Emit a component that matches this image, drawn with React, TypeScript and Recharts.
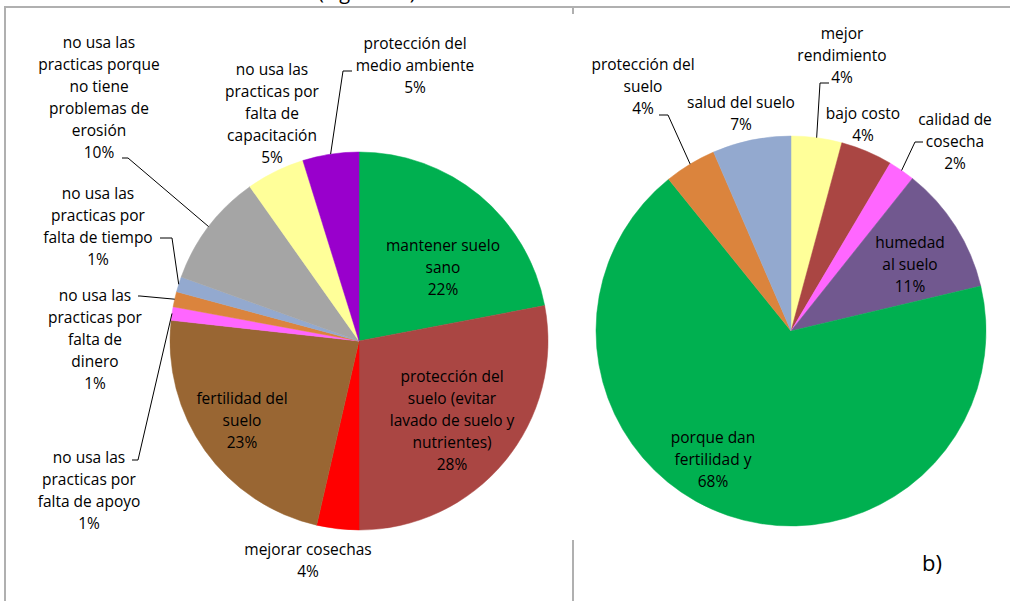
import React from 'react';
import { PieChart, Pie, Cell } from 'recharts';

// ---- Left pie (a) ----
const leftNames = [
  'mantener suelo\nsano',
  'protección del\nsuelo (evitar\nlavado de suelo y\nnutrientes)',
  'mejorar cosechas',
  'fertilidad del\nsuelo',
  'no usa las\npracticas por\nfalta de apoyo',
  'no usa las\npracticas por\nfalta de\ndinero',
  'no usa las\npracticas por\nfalta de tiempo',
  'no usa las\npracticas porque\nno tiene\nproblemas de\nerosión',
  'no usa las\npracticas por\nfalta de\ncapacitación',
  'protección del\nmedio ambiente',
];
const leftValues = [22, 28, 3.6, 23.15, 1.15, 1.3, 1.3, 9.7, 5.0, 4.8];
const leftColors = ['#00B050', '#AA4643', '#FF0000', '#996633', '#FF66FF', '#DB843D', '#93A9CF', '#A5A5A5', '#FFFF99', '#9900CC'];
// label block centre offsets from pie centre
const leftLabelPos: number[][] = [[84, -74], [93, 79], [-51, 219], [-117, 79], [-270, 149], [-264, -2], [-261, -115], [-260, -244], [-87, -228], [56, -276]];
// leader: elbow dx, dy, end dx, dy (relative to pie centre)
const leftLeaders: (number[] | null)[] = [null, null, null, null, [-221, 119, -227, 119], [-219, -45, -221, -45], [-187, -103, -199, -103], [-231, -183, -237, -183], null, [-16, -270, -7, -270]];

// ---- Right pie (b) ----
const rightNames = [
  'mejor\nrendimiento',
  'bajo costo',
  'calidad de\ncosecha',
  'humedad\nal suelo',
  'porque dan\nfertilidad y',
  'protección del\nsuelo',
  'salud del suelo',
];
const rightValues = [4.2, 4.3, 2.2, 10.6, 67.9, 4.3, 6.5];
const rightColors = ['#FFFF99', '#AA4643', '#FF66FF', '#71588F', '#00B050', '#DB843D', '#93A9CF'];
const rightLabelPos: number[][] = [[51, -276], [72, -207], [164, -190], [119, -67], [-78, 128], [-148, -245], [-50, -218]];
const rightLeaders: (number[] | null)[] = [[29, -248, 38, -248], null, [124, -189, 132, -189], null, null, [-123, -216, -132, -216], null];

const LH = 22;
const FONT = '"Open Sans", "Noto Sans", sans-serif';

const makeData = (names: string[], values: number[]) => names.map((n, i) => ({ name: n, value: values[i] }));

const makeLabel = (
  names: string[],
  values: number[],
  pos: number[][],
  leaders: (number[] | null)[],
  pcx: number,
  pcy: number
) => (props: any) => {
  const { midAngle, outerRadius, index } = props;
  const cx = typeof props.cx === 'number' ? props.cx : pcx;
  const cy = typeof props.cy === 'number' ? props.cy : pcy;
  const total = values.reduce((a, b) => a + b, 0);
  const pct = Math.round((values[index] / total) * 100) + '%';
  const lines = [...names[index].split('\n'), pct];
  const [dx, dy] = pos[index];
  const x = cx + dx;
  const y0 = cy + dy - ((lines.length - 1) * LH) / 2;
  const RAD = Math.PI / 180;
  const ax = cx + outerRadius * Math.cos(-midAngle * RAD);
  const ay = cy + outerRadius * Math.sin(-midAngle * RAD);
  const ld = leaders[index];
  return (
    <g key={'lbl' + index}>
      {ld && (
        <polyline
          points={`${ax},${ay} ${cx + ld[0]},${cy + ld[1]} ${cx + ld[2]},${cy + ld[3]}`}
          fill="none"
          stroke="#000"
          strokeWidth={1}
        />
      )}
      <text textAnchor="middle" dominantBaseline="central" fontFamily={FONT} fontSize={15.5} fill="#000">
        {lines.map((l, i) => (
          <tspan key={i} x={x} y={y0 + i * LH}>
            {l}
          </tspan>
        ))}
      </text>
    </g>
  );
};

const LCX = 359, LCY = 341, LR = 189;
const RCX = 791, RCY = 331, RR = 195;

export default function App() {
  const leftData = makeData(leftNames, leftValues);
  const rightData = makeData(rightNames, rightValues);
  return (
    <div style={{ position: 'fixed', left: 0, top: 0, width: 1010, height: 601, background: '#fff', overflow: 'hidden' }}>
      <PieChart width={1010} height={601} margin={{ top: 0, right: 0, bottom: 0, left: 0 }}>
        <Pie
          data={leftData}
          dataKey="value"
          nameKey="name"
          cx={LCX}
          cy={LCY}
          outerRadius={LR}
          startAngle={90}
          endAngle={-270}
          isAnimationActive={false}
          labelLine={false}
          label={makeLabel(leftNames, leftValues, leftLabelPos, leftLeaders, LCX, LCY)}
        >
          {leftData.map((d, i) => (
            <Cell key={i} fill={leftColors[i]} stroke={leftColors[i]} strokeWidth={0.5} />
          ))}
        </Pie>
        <Pie
          data={rightData}
          dataKey="value"
          nameKey="name"
          cx={RCX}
          cy={RCY}
          outerRadius={RR}
          startAngle={90}
          endAngle={-270}
          isAnimationActive={false}
          labelLine={false}
          label={makeLabel(rightNames, rightValues, rightLabelPos, rightLeaders, RCX, RCY)}
        >
          {rightData.map((d, i) => (
            <Cell key={i} fill={rightColors[i]} stroke={rightColors[i]} strokeWidth={0.5} />
          ))}
        </Pie>
      </PieChart>
      {/* frame lines */}
      <div style={{ position: 'absolute', left: 5, top: 6, width: 1005, height: 2, background: '#B0B0B0' }} />
      <div style={{ position: 'absolute', left: 4, top: 6, width: 2, height: 595, background: '#B0B0B0' }} />
      <div style={{ position: 'absolute', left: 572, top: 7, width: 2, height: 7, background: '#B0B0B0' }} />
      <div style={{ position: 'absolute', left: 572, top: 540, width: 2, height: 61, background: '#B0B0B0' }} />
      <div style={{ position: 'absolute', left: 318, top: -22, fontFamily: FONT, fontSize: 20, color: '#000', whiteSpace: 'nowrap' }}>
        (Figura 10)
      </div>
      <div style={{ position: 'absolute', left: 922, top: 547, fontFamily: FONT, fontSize: 22, color: '#000' }}>b)</div>
    </div>
  );
}
